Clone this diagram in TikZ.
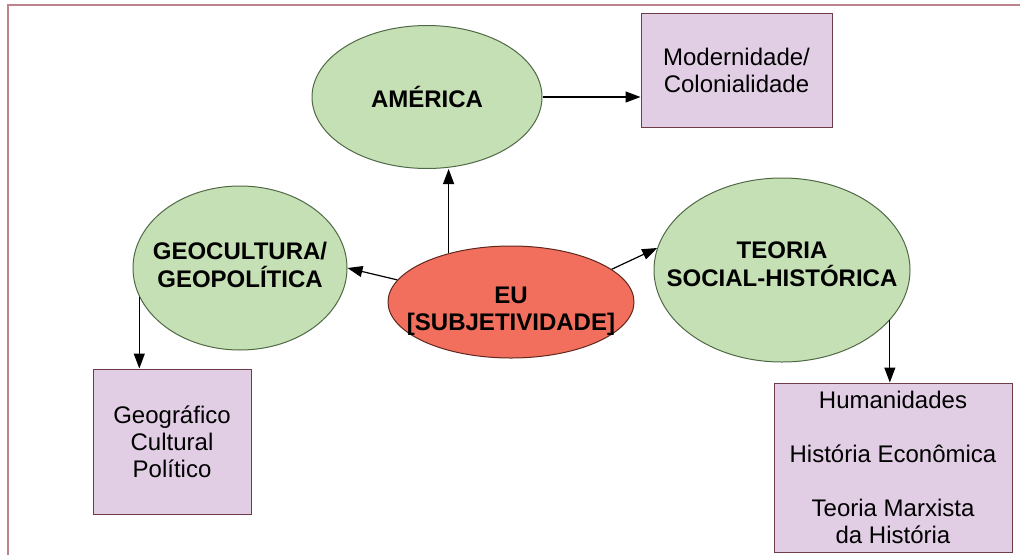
\documentclass[tikz,border=0pt]{standalone}
\usepackage{fontspec}
\setmainfont{Liberation Sans}
\usepackage{tikz}
\usetikzlibrary{shapes, arrows.meta, positioning}
\definecolor{verde}{RGB}{197,224,180}
\definecolor{verdeborda}{RGB}{80,105,70}
\definecolor{lilas}{RGB}{225,205,228}
\definecolor{lilasborda}{RGB}{110,60,70}
\definecolor{salmao}{RGB}{241,111,92}
\definecolor{salmaoborda}{RGB}{95,40,30}
\definecolor{moldura}{RGB}{190,130,140}
\tikzstyle{conceito} = [ellipse, draw=verdeborda, fill=verde, line width=1pt, inner sep=0pt]
\tikzstyle{centro} = [conceito, draw=salmaoborda, fill=salmao]
\tikzstyle{rotulo} = [align=center, inner sep=0pt, font=\fontsize{24}{28}\selectfont\bfseries]
\tikzstyle{caixa} = [rectangle, draw=lilasborda, fill=lilas, line width=1pt, inner sep=0pt, align=center, font=\fontsize{24}{27}\selectfont]
\tikzstyle{seta} = [draw=black, line width=1.2pt, -{Triangle[length=15pt,width=11pt]}]

\begin{document}
\begin{tikzpicture}[x=1pt, y=-1pt]
	\useasboundingbox (0,0) rectangle (1020,555);
	\draw[moldura, line width=1.5pt] (1020,5) -- (8,5) -- (8,555);
	\node [conceito, minimum width=230pt, minimum height=143pt,
		label={[rotulo]center:AMÉRICA}] (ame) at (427,97) {};
	\node [caixa, minimum width=191pt, minimum height=114pt] (mod) at (736.5,70) {Modernidade/\\Colonialidade};
	\node [conceito, minimum width=214pt, minimum height=164pt,
		label={[rotulo, yshift=3pt]center:GEOCULTURA/\\GEOPOLÍTICA}] (geo) at (240,268) {};
	\node [caixa, minimum width=158pt, minimum height=145pt] (geobox) at (172,441.5) {Geográfico\\Cultural\\Político};
	\node [centro, minimum width=246pt, minimum height=112pt,
		label={[rotulo, yshift=-9pt, font=\fontsize{24}{27}\selectfont\bfseries]center:EU\\{}[SUBJETIVIDADE]}] (eu) at (511,302) {};
	\node [conceito, minimum width=256pt, minimum height=184pt,
		label={[rotulo, yshift=6pt]center:TEORIA\\SOCIAL-HISTÓRICA}] (teo) at (782,270) {};
	\node [caixa, minimum width=238pt, minimum height=169pt] (hum) at (893,467.5) {Humanidades\\[27pt]História Econômica\\[27pt]Teoria Marxista\\da História};
	\draw[seta] (ame.east) -- (ame.east -| mod.west);
	\draw[seta] (eu.142) -- (eu.142 |- ame.south);
	\draw[seta] (eu.169) -- (geo.east);
	\draw[seta] (eu.18) -- (teo.170);
	\draw[seta] (geo.196) -- (geo.196 |- geobox.north);
	\draw[seta] (teo.335) -- (teo.335 |- hum.north);
\end{tikzpicture}
\end{document}
